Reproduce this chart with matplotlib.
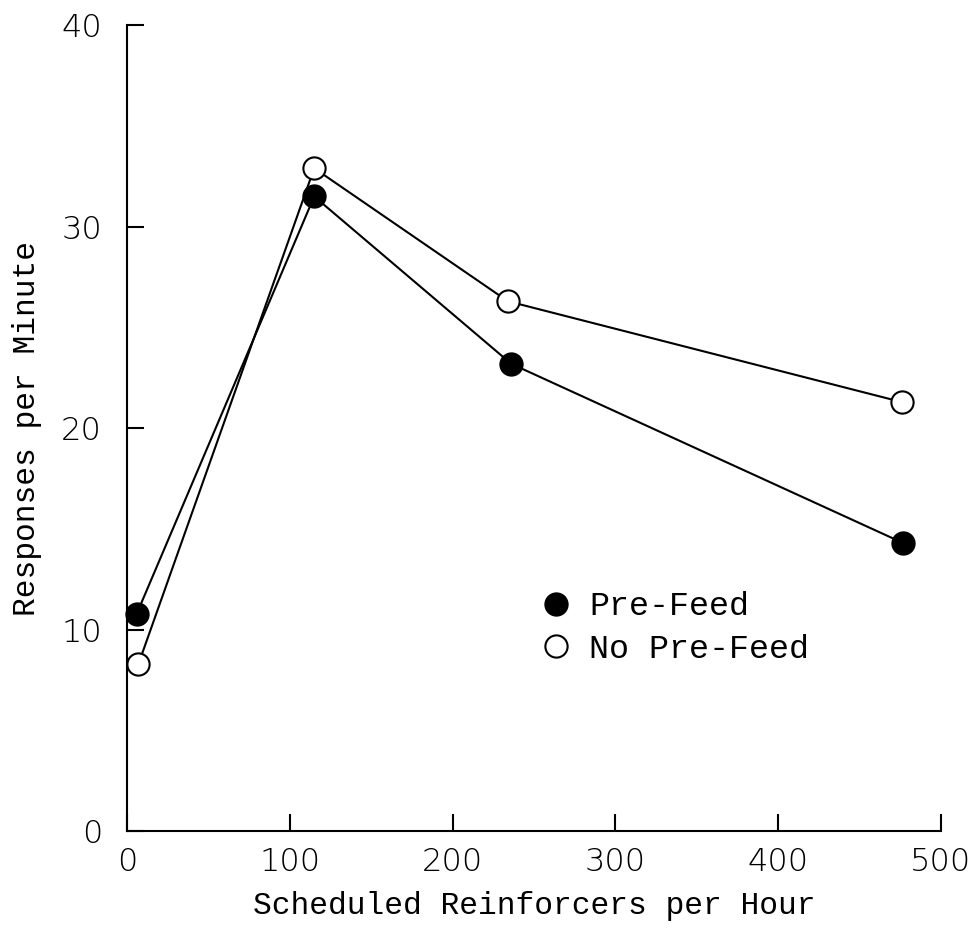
import matplotlib
matplotlib.use("Agg")
import matplotlib.pyplot as plt

# data
rate_fed = [6, 115, 236, 477]
resp_fed = [10.8, 31.5, 23.2, 14.3]
rate_nofed = [7, 115, 234, 476]
resp_nofed = [8.3, 32.9, 26.3, 21.3]

xticks = [0, 100, 200, 300, 400, 500]
yticks = [0, 10, 20, 30, 40]

fig = plt.figure(figsize=(9.77, 9.30), dpi=100)
ax = fig.add_axes([0.130, 0.106, 0.833, 0.867])

ax.plot(rate_fed, resp_fed, '-o', color='black', lw=1.5, ms=16,
        mfc='black', mec='black', mew=1.5, label='Pre-Feed', clip_on=False)
ax.plot(rate_nofed, resp_nofed, '-o', color='black', lw=1.5, ms=16,
        mfc='white', mec='black', mew=1.5, label='No Pre-Feed', clip_on=False)

ax.set_xlim(0, 500)
ax.set_ylim(0, 40)
ax.set_xticks(xticks)
ax.set_yticks(yticks)
ax.spines['top'].set_visible(False)
ax.spines['right'].set_visible(False)
for s in ['left', 'bottom']:
    ax.spines[s].set_linewidth(1.5)
ax.tick_params(direction='in', length=12, width=1.5, labelsize=23)
ax.tick_params(axis='y', pad=18)
ax.tick_params(axis='x', pad=11)
for lab in ax.get_xticklabels() + ax.get_yticklabels():
    lab.set_family('DejaVu Sans')
    lab.set_fontweight('light')

ax.set_xlabel('Scheduled Reinforcers per Hour', family='Liberation Mono',
              fontsize=22.5, labelpad=10)
ax.set_ylabel('Responses per Minute', family='Liberation Mono',
              fontsize=22.5, labelpad=14)

ax.legend(loc='upper left', bbox_to_anchor=(0.49, 0.335), frameon=False,
          handlelength=0, handletextpad=1.0, labelspacing=0.35,
          prop={'family': 'Liberation Mono', 'size': 24})

fig.savefig('out.png', dpi=100, facecolor='white')
